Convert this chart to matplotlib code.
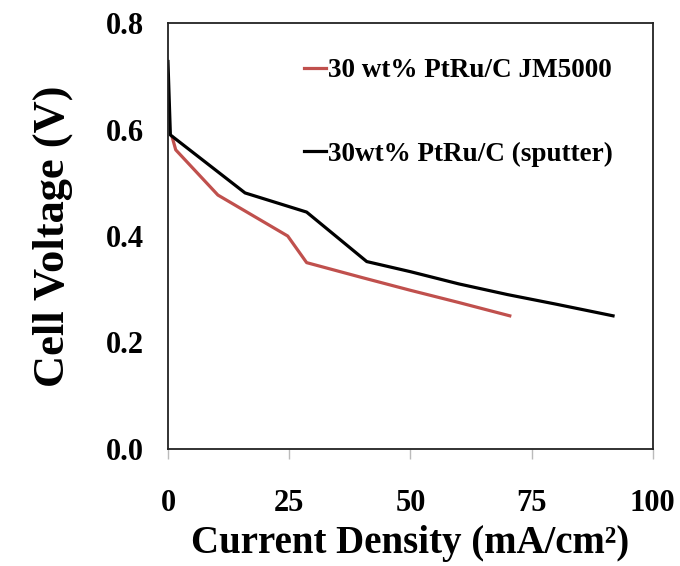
import matplotlib.pyplot as plt

# --- Data ---
jm_x = [0.9, 1.6, 10.3, 24.7, 28.6, 40, 50, 60, 70.5]
jm_v = [0.585, 0.562, 0.477, 0.40, 0.35, 0.322, 0.298, 0.275, 0.25]

sp_x = [0.0, 0.5, 15.9, 28.6, 41.0, 50, 60, 70, 80, 91.8]
sp_v = [0.728, 0.59, 0.481, 0.445, 0.352, 0.333, 0.31, 0.29, 0.272, 0.25]

x_ticks = [0, 25, 50, 75, 100]
y_ticks = [0.0, 0.2, 0.4, 0.6, 0.8]

plt.rcParams.update({
    "font.family": ["Liberation Serif", "DejaVu Serif"],
    "font.weight": "bold",
})

fig = plt.figure(figsize=(6.8, 5.66), dpi=100)
ax = fig.add_axes([0.247, 0.207, 0.713, 0.752])

ax.plot(jm_x, jm_v, color="#C0504D", linewidth=2.3,
        label="30 wt% PtRu/C JM5000")
ax.plot(sp_x, sp_v, color="black", linewidth=2.3,
        label="30wt% PtRu/C (sputter)")

ax.set_xlim(0, 100)
ax.set_ylim(0, 0.8)
ax.set_xticks(x_ticks)
ax.set_yticks(y_ticks)
ax.set_xticklabels([str(t) for t in x_ticks])
ax.set_yticklabels([f"{t:.1f}" for t in y_ticks])

ax.tick_params(axis="x", direction="out", length=7, width=1, color="#bbbbbb",
               labelsize=22, pad=22)
ax.tick_params(axis="y", length=0, labelsize=22, pad=17)
for s in ax.spines.values():
    s.set_linewidth(1.3)
    s.set_color("#222222")

ax.set_xlabel("Current Density (mA/cm²)", fontsize=28,
              fontweight="bold", labelpad=5)
ax.set_ylabel("Cell Voltage (V)", fontsize=32, fontweight="bold", labelpad=24)

ax.legend(loc="upper left", bbox_to_anchor=(0.23, 0.975), frameon=False,
          handlelength=0.8, handletextpad=0.1, labelspacing=2.15,
          prop={"weight": "bold", "size": 19.5})

fig.savefig("out.png", dpi=100)
